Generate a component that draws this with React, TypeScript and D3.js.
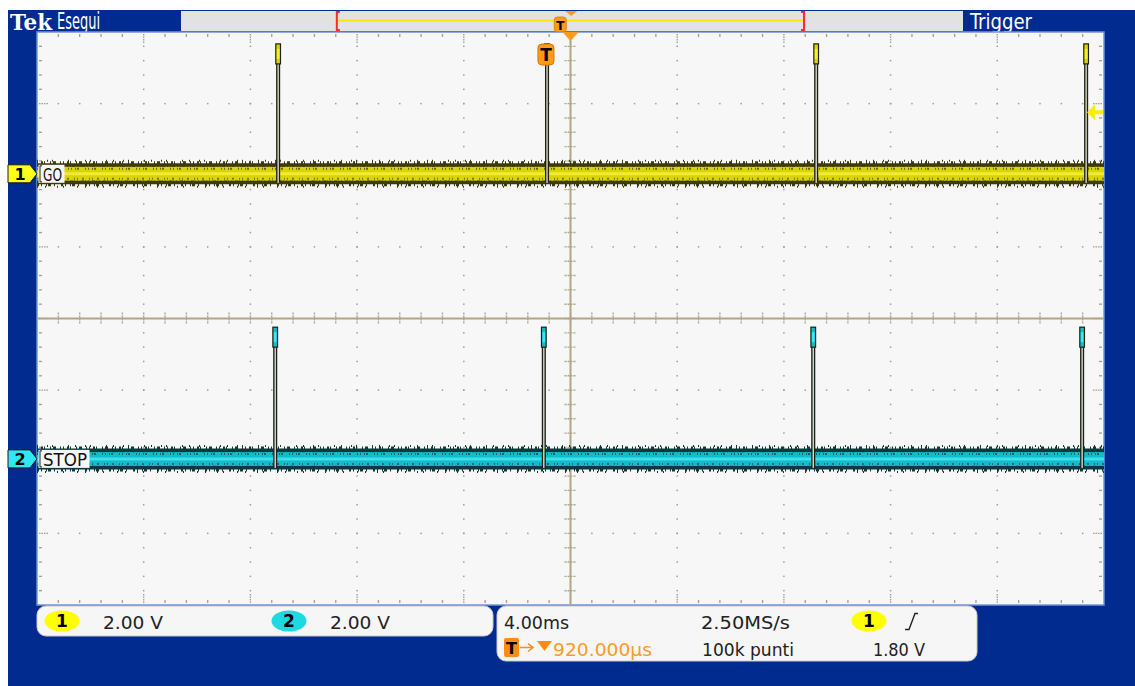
import React from "react";
import * as d3 from "d3";

// ---------- data ----------
const hDivs = 10;
const vDivs = 8;
const minorPerDiv = 5;
const timePerDivMs = 4;
const triggerDelayMs = 0.92;
const ch1VoltsPerDiv = 2;
const ch2VoltsPerDiv = 2;
const ch1OffsetDiv = 2.02;
const ch2OffsetDiv = -1.96;
const ch1PulseTimesMs = [-10.04, 0.04, 10.13, 20.25];
const ch2PulseTimesMs = [-10.15, -0.08, 10.02, 20.1];
const ch1PulseAmpV = [3.6, 3.6, 3.6, 3.6];
const ch2PulseAmpV = [3.65, 3.65, 3.65, 3.65];
const pulseWidthMs = 0.1;
const triggerLevelV = 1.8;
const recordWindowFrac = [0.198, 0.798];
const triggerRecordFrac = 0.485;

const ch1Label = "GO";
const ch2Label = "STOP";
const ch1Scale = "2.00 V";
const ch2Scale = "2.00 V";
const timeScaleText = "4.00ms";
const sampleRateText = "2.50MS/s";
const recordLenText = "100k punti";
const trigLevelText = "1.80 V";
const trigDelayText = "920.000µs";

// ---------- layout ----------
const W = 1135;
const H = 686;
const L = 37, R = 1104, T = 32, B = 605;
const FONT = "'Liberation Sans Narrow','DejaVu Sans Condensed','Roboto Condensed','Liberation Sans',sans-serif";
const BLUE = "#022b8f";
const GRID = "#a39d8c";

const x = d3.scaleLinear()
  .domain([triggerDelayMs - (hDivs / 2) * timePerDivMs, triggerDelayMs + (hDivs / 2) * timePerDivMs])
  .range([L, R]);
const yDiv = d3.scaleLinear().domain([-vDivs / 2, vDivs / 2]).range([B, T]);
const y1 = (v: number) => yDiv(ch1OffsetDiv + v / ch1VoltsPerDiv);
const y2 = (v: number) => yDiv(ch2OffsetDiv + v / ch2VoltsPerDiv);

const dx = (R - L) / hDivs;
const dy = (B - T) / vDivs;

function Grid() {
  const els: React.ReactNode[] = [];
  for (let i = 1; i < hDivs; i++) {
    if (i === hDivs / 2) continue;
    const gx = L + i * dx;
    for (let k = 1; k < vDivs * minorPerDiv; k++) {
      els.push(<rect key={`v${i}-${k}`} x={gx - 0.75} y={T + (k * dy) / minorPerDiv - 0.75} width={1.5} height={1.5} fill={GRID} />);
    }
  }
  for (let j = 1; j < vDivs; j++) {
    if (j === vDivs / 2) continue;
    const gy = T + j * dy;
    for (let k = 1; k < hDivs * minorPerDiv; k++) {
      els.push(<rect key={`h${j}-${k}`} x={L + (k * dx) / minorPerDiv - 0.75} y={gy - 0.75} width={1.5} height={1.5} fill={GRID} />);
    }
  }
  for (let k = 1; k < hDivs * minorPerDiv; k++) {
    const tx = L + (k * dx) / minorPerDiv;
    const major = k % minorPerDiv === 0;
    const len = major ? 9 : 3;
    els.push(<line key={`bt${k}`} x1={tx} x2={tx} y1={T + 2} y2={T + 2 + len} stroke={GRID} strokeWidth={1.3} strokeDasharray={major ? "1.5 1" : undefined} />);
    els.push(<line key={`bb${k}`} x1={tx} x2={tx} y1={B - 2} y2={B - 2 - len} stroke={GRID} strokeWidth={1.3} strokeDasharray={major ? "1.5 1" : undefined} />);
  }
  for (let k = 1; k < vDivs * minorPerDiv; k++) {
    const ty = T + (k * dy) / minorPerDiv;
    const major = k % minorPerDiv === 0;
    const len = major ? 9 : 3;
    els.push(<line key={`bl${k}`} y1={ty} y2={ty} x1={L + 2} x2={L + 2 + len} stroke={GRID} strokeWidth={1.3} strokeDasharray={major ? "1.5 1" : undefined} />);
    els.push(<line key={`br${k}`} y1={ty} y2={ty} x1={R - 2} x2={R - 2 - len} stroke={GRID} strokeWidth={1.3} strokeDasharray={major ? "1.5 1" : undefined} />);
  }
  const cx = L + (hDivs / 2) * dx;
  const cy = T + (vDivs / 2) * dy;
  const CL = "#b1a585";
  els.push(<line key="cv" x1={cx} x2={cx} y1={T} y2={B} stroke={CL} strokeWidth={2} />);
  els.push(<line key="ch" x1={L} x2={R} y1={cy} y2={cy} stroke={CL} strokeWidth={2} />);
  for (let k = 1; k < vDivs * minorPerDiv; k++) {
    const ty = T + (k * dy) / minorPerDiv;
    els.push(<line key={`cvt${k}`} x1={cx - 6} x2={cx + 6} y1={ty} y2={ty} stroke={CL} strokeWidth={1.4} strokeDasharray="2 1" />);
  }
  for (let k = 1; k < hDivs * minorPerDiv; k++) {
    const tx = L + (k * dx) / minorPerDiv;
    els.push(<line key={`cht${k}`} y1={cy - 6} y2={cy + 6} x1={tx} x2={tx} stroke={CL} strokeWidth={1.4} strokeDasharray="2 1" />);
  }
  return <g>{els}</g>;
}

interface TraceProps {
  times: number[];
  amps: number[];
  yf: (v: number) => number;
  edge: string;
  main: string;
  light: string;
  inner: string;
}

function Trace({ times, amps, yf, edge, main, light, inner }: TraceProps) {
  const yb = yf(0);
  return (
    <g>
      <line x1={L} x2={R} y1={yb} y2={yb} stroke={edge} strokeWidth={21} />
      <line x1={L} x2={R} y1={yb - 11} y2={yb - 11} stroke={edge} strokeWidth={3} strokeDasharray="1 3 2 1 1 5 1 2 3 4 1 2" />
      <line x1={L} x2={R} y1={yb + 11} y2={yb + 11} stroke={edge} strokeWidth={3} strokeDasharray="2 2 1 4 1 1 3 3 1 6" />
      <line x1={L} x2={R} y1={yb + 13} y2={yb + 13} stroke={edge} strokeWidth={2} strokeDasharray="1 7 1 11 1 5 1 13" />
      <line x1={L} x2={R} y1={yb - 13} y2={yb - 13} stroke={edge} strokeWidth={2} strokeDasharray="1 9 1 4 1 15 1 6" />
      <line x1={L} x2={R} y1={yb} y2={yb} stroke={main} strokeWidth={14} />
      <line x1={L} x2={R} y1={yb - 5} y2={yb - 5} stroke={edge} strokeWidth={2} strokeDasharray="1 3 1 1 2 6 1 2" opacity={0.7} />
      <line x1={L} x2={R} y1={yb + 5} y2={yb + 5} stroke={edge} strokeWidth={2} strokeDasharray="2 5 1 2 1 4" opacity={0.6} />
      <line x1={L} x2={R} y1={yb - 7.5} y2={yb - 7.5} stroke={edge} strokeWidth={1.5} strokeDasharray="1 2 1 1 3 2" opacity={0.8} />
      <line x1={L} x2={R} y1={yb + 7.5} y2={yb + 7.5} stroke={edge} strokeWidth={1.5} strokeDasharray="3 1 1 2 1 3" opacity={0.8} />
      <line x1={L} x2={R} y1={yb} y2={yb} stroke={light} strokeWidth={3} opacity={0.9} />
      {times.map((t, i) => {
        const xl = x(t - pulseWidthMs / 2);
        const xr = x(t + pulseWidthMs / 2);
        const yt = yf(amps[i]);
        return (
          <g key={i}>
            <path d={`M${xl},${yb + 9}V${yt}H${xr}V${yb + 9}`} fill={inner} stroke="#1e2010" strokeWidth={1.4} />
            <rect x={xl - 1} y={yt - 1} width={xr - xl + 2} height={20} fill={main} stroke="#1e2010" strokeWidth={1.2} />
            <rect x={xl} y={yt + 4} width={xr - xl} height={10} fill={light} />
          </g>
        );
      })}
    </g>
  );
}

function ChannelMarker({ yc, fill, label }: { yc: number; fill: string; label: string }) {
  return (
    <g>
      <path d={`M8,${yc - 9}H30L37,${yc}L30,${yc + 9}H8Z`} fill={fill} stroke="#1a1a1a" strokeWidth={1} />
      <text x={20} y={yc + 6} textAnchor="middle" fontFamily="'DejaVu Sans',sans-serif" fontWeight="bold" fontSize={16} fill="#000">{label}</text>
    </g>
  );
}

function TraceLabel({ yc, text, w }: { yc: number; text: string; w: number }) {
  return (
    <g>
      <rect x={38.5} y={yc - 9} width={w} height={18} fill="#f7f7f7" />
      <path d={`M42,${yc - 8}H40V${yc + 8}H42`} fill="none" stroke="#222" strokeWidth={1} />
      <text x={43} y={yc + 7} fontFamily={FONT} fontSize={18} fill="#111" textLength={w - 7} lengthAdjust="spacingAndGlyphs">{text}</text>
    </g>
  );
}

function Pill({ cx, cy, fill, label }: { cx: number; cy: number; fill: string; label: string }) {
  return (
    <g>
      <ellipse cx={cx} cy={cy} rx={17.5} ry={10.5} fill={fill} />
      <text x={cx} y={cy + 6} textAnchor="middle" fontFamily="'DejaVu Sans',sans-serif" fontWeight="bold" fontSize={17} fill="#000">{label}</text>
    </g>
  );
}

export default function App() {
  const barL = 181, barR = 963, barT = 11, barB = 31;
  const barX = d3.scaleLinear().domain([0, 1]).range([barL, barR]);
  const bx0 = barX(recordWindowFrac[0]);
  const bx1 = barX(recordWindowFrac[1]);
  const bT = barX(triggerRecordFrac);
  const centerX = x(triggerDelayMs);
  const trigX = x(0);
  const trigY = y1(triggerLevelV) + 3;
  const base1 = y1(0);
  const base2 = y2(0);

  return (
    <svg width={W} height={H} style={{ position: "absolute", left: 0, top: 0, display: "block", background: "#fff" }}>
      <rect x={8} y={10} width={W - 8} height={H - 10} fill={BLUE} />
      <text x={10} y={30} fontFamily="'DejaVu Serif','Liberation Serif',serif" fontWeight="bold" fontSize={23} fill="#fff" textLength={42} lengthAdjust="spacingAndGlyphs">Tek</text>
      <text x={57} y={29} fontFamily={FONT} fontSize={23} fill="#fff" textLength={43} lengthAdjust="spacingAndGlyphs">Esegui</text>
      <text x={970} y={29} fontFamily={FONT} fontSize={21} fill="#fff" textLength={62} lengthAdjust="spacingAndGlyphs">Trigger</text>
      <rect x={barL} y={barT} width={barR - barL} height={barB - barT} fill="#e2e2e2" />
      <line x1={bx0} x2={bx1} y1={20.5} y2={20.5} stroke="#ffe600" strokeWidth={2} />
      <path d={`M${bx0 + 4},${barT + 1}H${bx0 + 1}V${barB - 1}H${bx0 + 4}`} fill="none" stroke="#ff2a2a" strokeWidth={2} />
      <path d={`M${bx1 - 4},${barT + 1}H${bx1 - 1}V${barB - 1}H${bx1 - 4}`} fill="none" stroke="#ff2a2a" strokeWidth={2} />
      <path d={`M${barX(0.499) - 6},${barT}H${barX(0.499) + 6}L${barX(0.499)},${barT + 5}Z`} fill="#ff9a1a" />
      <rect x={bT - 6} y={17} width={12} height={15} rx={3} fill="#ff9a1a" stroke="#e07800" strokeWidth={0.8} />
      <text x={bT} y={29.5} textAnchor="middle" fontFamily="'DejaVu Sans',sans-serif" fontWeight="bold" fontSize={12} fill="#000">T</text>

      <rect x={L} y={T} width={R - L} height={B - T} fill="#f7f7f7" stroke="#6f95dd" strokeWidth={1.5} />
      <Grid />
      <path d={`M${centerX - 8},${T}H${centerX + 8}L${centerX},${T + 9}Z`} fill="#ff9a1a" />

      <Trace times={ch1PulseTimesMs} amps={ch1PulseAmpV} yf={y1} edge="#3d3b0c" main="#d9d500" light="#f3ee3a" inner="#efefdc" />
      <Trace times={ch2PulseTimesMs} amps={ch2PulseAmpV} yf={y2} edge="#0c3a40" main="#12bccb" light="#40e4f2" inner="#e2f2f2" />

      <TraceLabel yc={base1} text={ch1Label} w={26} />
      <TraceLabel yc={base2} text={ch2Label} w={51} />

      <rect x={trigX - 8} y={T + 12} width={16} height={21} rx={4} fill="#ff9a1a" stroke="#d87400" strokeWidth={1} />
      <text x={trigX} y={T + 29} textAnchor="middle" fontFamily="'DejaVu Sans',sans-serif" fontWeight="bold" fontSize={17} fill="#000">T</text>
      <path d={`M${R - 17},${trigY}L${R - 9},${trigY - 8}V${trigY - 2}H${R - 1}V${trigY + 2}H${R - 9}V${trigY + 8}Z`} fill="#ffee00" />

      <ChannelMarker yc={base1} fill="#ffff1a" label="1" />
      <ChannelMarker yc={base2} fill="#33e6f5" label="2" />

      <rect x={37} y={606} width={456} height={30} rx={9} fill="#f6f6f6" stroke="#c9c9c9" strokeWidth={1} />
      <Pill cx={62} cy={621} fill="#ffff00" label="1" />
      <text x={103} y={628.5} fontFamily={FONT} fontSize={18} fill="#222" textLength={60} lengthAdjust="spacingAndGlyphs">{ch1Scale}</text>
      <Pill cx={289} cy={621} fill="#1dd9e0" label="2" />
      <text x={330} y={628.5} fontFamily={FONT} fontSize={18} fill="#222" textLength={60} lengthAdjust="spacingAndGlyphs">{ch2Scale}</text>

      <rect x={497} y={606} width={480} height={55} rx={9} fill="#f6f6f6" stroke="#c9c9c9" strokeWidth={1} />
      <text x={504} y={628.5} fontFamily={FONT} fontSize={18} fill="#222" textLength={65} lengthAdjust="spacingAndGlyphs">{timeScaleText}</text>
      <text x={701} y={628.5} fontFamily={FONT} fontSize={18} fill="#222" textLength={89} lengthAdjust="spacingAndGlyphs">{sampleRateText}</text>
      <Pill cx={869} cy={621} fill="#ffff00" label="1" />
      <path d="M905,629.5H909L915,613.5H918" fill="none" stroke="#222" strokeWidth={1.4} />
      <rect x={504} y={638} width={15} height={19} rx={2} fill="#ff8c1a" />
      <text x={511.5} y={654} textAnchor="middle" fontFamily="'DejaVu Sans',sans-serif" fontWeight="bold" fontSize={16} fill="#000">T</text>
      <path d="M520,647.5H532M528,643.5L533,647.5L528,651.5" fill="none" stroke="#ff8c1a" strokeWidth={1.6} />
      <path d="M537,641H552L544.5,651Z" fill="#ff8c1a" />
      <text x={553} y={655.5} fontFamily={FONT} fontSize={18} fill="#ff9a26" textLength={99} lengthAdjust="spacingAndGlyphs">{trigDelayText}</text>
      <text x={702} y={655.5} fontFamily={FONT} fontSize={18} fill="#222" textLength={92} lengthAdjust="spacingAndGlyphs">{recordLenText}</text>
      <text x={873} y={655.5} fontFamily={FONT} fontSize={18} fill="#222" textLength={52} lengthAdjust="spacingAndGlyphs">{trigLevelText}</text>
    </svg>
  );
}
